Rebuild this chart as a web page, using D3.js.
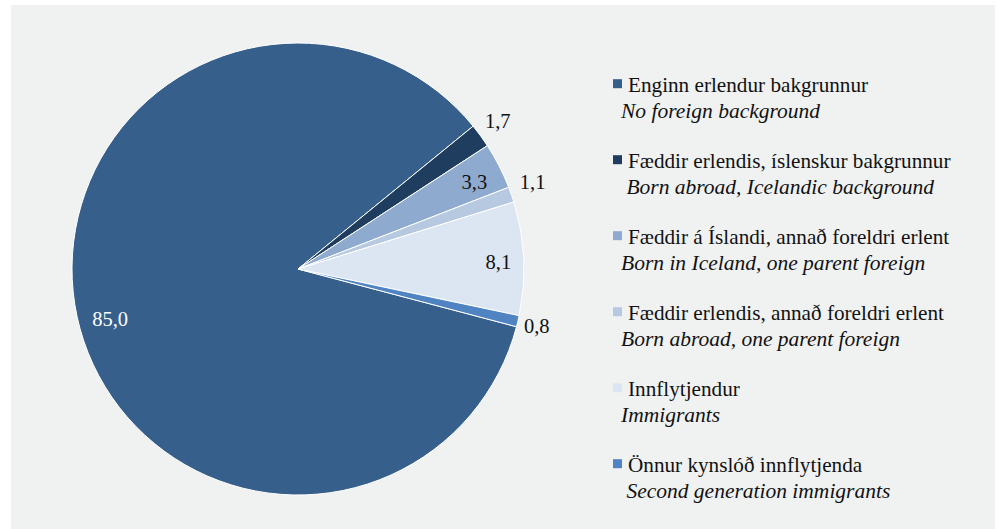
<!DOCTYPE html>
<html>
<head>
<meta charset="utf-8">
<script src="https://cdn.jsdelivr.net/npm/d3@7"></script>
<style>
  html, body { margin: 0; padding: 0; background: #ffffff; }
  svg { display: block; }
</style>
</head>
<body>
<svg id="chart" width="1000" height="529"></svg>
<script>
// ---- Data ----
const categoriesIs = [
  "Enginn erlendur bakgrunnur",
  "Fæddir erlendis, íslenskur bakgrunnur",
  "Fæddir á Íslandi, annað foreldri erlent",
  "Fæddir erlendis, annað foreldri erlent",
  "Innflytjendur",
  "Önnur kynslóð innflytjenda"
];
const categoriesEn = [
  "No foreign background",
  " Born abroad, Icelandic background",
  "Born in Iceland, one parent foreign",
  "Born abroad, one parent foreign",
  "Immigrants",
  " Second generation immigrants"
];
const values = [85.0, 1.7, 3.3, 1.1, 8.1, 0.8];
const valueLabels = ["85,0", "1,7", "3,3", "1,1", "8,1", "0,8"];

// ---- Styling / layout ----
const FONT = "Liberation Serif";
const colors = ["#365f8c", "#1f3d5e", "#8eabcf", "#b7c9e0", "#dce6f2", "#4f83c2"];
const labelColors = ["#ffffff", "#111111", "#111111", "#111111", "#111111", "#111111"];
const labelRadiusFactor = [0.86, 1.10, 0.87, 1.107, 0.887, 1.086];
const labelAngleShift = [-2.7, -0.4, 0.9, -1.1, 0.5, 0]; // degrees

const svg = d3.select("#chart");
svg.append("rect").attr("x", 11).attr("y", 5).attr("width", 984).attr("height", 524).attr("fill", "#f0f2f2");

const cx = 298, cy = 269, R = 226;
const startDeg = 104.8;
const toRad = d => d * Math.PI / 180;

const pie = d3.pie().sort(null).value(d => d)
  .startAngle(toRad(startDeg)).endAngle(toRad(startDeg + 360));
const arcs = pie(values);
const arc = d3.arc().innerRadius(0).outerRadius(R);
const color = d3.scaleOrdinal().domain(d3.range(values.length)).range(colors);

const g = svg.append("g").attr("transform", `translate(${cx},${cy})`);
g.selectAll("path.slice").data(arcs).enter().append("path")
  .attr("class", "slice")
  .attr("d", arc)
  .attr("fill", (d, i) => color(i))
  .attr("stroke", "#ffffff")
  .attr("stroke-width", 1)
  .attr("stroke-linejoin", "round");

g.selectAll("text.lbl").data(arcs).enter().append("text")
  .attr("class", "lbl")
  .style("font-family", FONT)
  .attr("transform", (d, i) => {
    const a = (d.startAngle + d.endAngle) / 2 + toRad(labelAngleShift[i]);
    const r = R * labelRadiusFactor[i];
    return `translate(${r * Math.sin(a)},${-r * Math.cos(a)})`;
  })
  .attr("text-anchor", "middle")
  .attr("dy", "0.35em")
  .style("font-size", "20.5px")
  .attr("fill", (d, i) => labelColors[i])
  .text((d, i) => valueLabels[i]);

// ---- Legend ----
const legY = d3.scaleLinear().domain([0, categoriesIs.length - 1]).range([91.7, 471.7]);
const leg = svg.append("g");
const items = leg.selectAll("g.item").data(categoriesIs).enter().append("g")
  .attr("class", "item")
  .attr("transform", (d, i) => `translate(0,${legY(i)})`);
items.append("rect")
  .attr("x", 613).attr("y", -12.5).attr("width", 9).attr("height", 9)
  .attr("fill", (d, i) => color(i));
items.append("text")
  .style("font-family", FONT)
  .attr("x", 628).attr("y", 0)
  .style("font-size", "21.2px").attr("fill", "#111111")
  .text(d => d);
items.append("text")
  .style("font-family", FONT)
  .attr("x", 621).attr("y", 26.5)
  .style("font-size", "21.5px").style("font-style", "italic").attr("fill", "#111111")
  .style("white-space", "pre")
  .text((d, i) => categoriesEn[i]);
</script>
</body>
</html>
